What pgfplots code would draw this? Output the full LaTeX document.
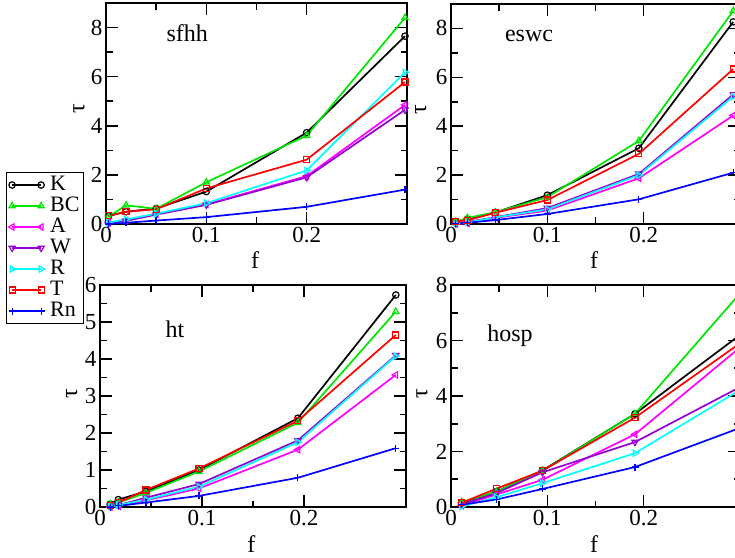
\documentclass[border=0pt]{standalone}
\usepackage{pgfplots}
\pgfplotsset{compat=1.18}
\usepackage{fontspec}
\setmainfont{Liberation Serif}
\definecolor{cGreen}{RGB}{0,230,0}
\definecolor{cViolet}{RGB}{148,0,211}
\definecolor{cCyan}{RGB}{0,255,255}
\definecolor{cMag}{RGB}{255,0,255}
\pgfplotsset{
  panel/.style={
    scale only axis, anchor=south west, xmin=0, xmax=0.3, clip=false,
    xtick={0,0.1,0.2}, minor x tick num=1,
    axis line style={line width=2pt},
    tick style={line width=1.6pt, black},
    major tick length=12pt, minor tick length=6.5pt,
    tick align=inside,
    /pgf/number format/assume math mode=true,
    tick label style={font=\fontsize{23}{23}\selectfont},
    label style={font=\fontsize{24}{24}\selectfont},
    xlabel={f}, ylabel={τ},
    xlabel style={at={(axis description cs:0.495,-0.165)}, anchor=center},
    every axis plot/.append style={line width=1.7pt},
  },
  sK/.style={black, mark=o, mark size=3.2pt, mark options={solid, line width=1.2pt}},
  sBC/.style={cGreen, mark=triangle, mark size=3.6pt, mark options={solid, line width=1.2pt}},
  sA/.style={cMag, mark=triangle, mark size=3.6pt, mark options={solid, line width=1.2pt, rotate=90}},
  sW/.style={cViolet, mark=triangle, mark size=3.6pt, mark options={solid, line width=1.2pt, rotate=180}},
  sR/.style={cCyan, mark=triangle, mark size=3.6pt, mark options={solid, line width=1.2pt, rotate=-90}},
  sT/.style={red, mark=square, mark size=3pt, mark options={solid, line width=1.2pt}},
  sRn/.style={blue, mark=+, mark size=3.5pt, mark options={solid, line width=1.2pt}},
}
\begin{document}
\begin{tikzpicture}
% ---------- sfhh ----------
\begin{axis}[panel, at={(106pt,333pt)}, width=301pt, height=221pt,
  ymin=0, ymax=9, ytick={0,2,4,6,8}, minor y tick num=1,
  ylabel style={at={(axis description cs:-0.09,0.52)}, anchor=center},
  legend cell align=left,
  legend style={at={(-0.332,0.235)}, anchor=north west,
    draw=black, line width=0.9pt, inner sep=2pt, row sep=0pt, column sep=4pt,
    font=\fontsize{22}{22}\selectfont,
    nodes={font=\fontsize{22}{22}\selectfont, inner sep=1.5pt, text height=14.5pt, text depth=3.5pt}},
  legend image code/.code={\draw plot coordinates {(0pt,0pt) (29pt,0pt)};},
]
\addplot[sK] coordinates {(0.0025,0.33) (0.02,0.5) (0.05,0.63) (0.1,1.32) (0.2,3.72) (0.298,7.65)};
\addplot[sBC] coordinates {(0.0025,0.3) (0.02,0.76) (0.05,0.62) (0.1,1.7) (0.2,3.6) (0.298,8.4)};
\addplot[sA] coordinates {(0.0025,0.05) (0.02,0.15) (0.05,0.4) (0.1,0.8) (0.2,1.95) (0.298,4.85)};
\addplot[sW] coordinates {(0.0025,0.02) (0.02,0.13) (0.05,0.38) (0.1,0.78) (0.2,1.9) (0.298,4.65)};
\addplot[sR] coordinates {(0.0025,0.06) (0.02,0.19) (0.05,0.42) (0.1,0.85) (0.2,2.18) (0.298,6.18)};
\addplot[sT] coordinates {(0.0025,0.33) (0.02,0.5) (0.05,0.6) (0.1,1.45) (0.2,2.62) (0.298,5.78)};
\addplot[sRn] coordinates {(0.0025,0.0) (0.02,0.05) (0.05,0.14) (0.1,0.28) (0.2,0.7) (0.298,1.4)};
\legend{K,BC,A,W,R,T,Rn}
\node[font=\fontsize{24}{24}\selectfont, anchor=center] at (axis description cs:0.27,0.862) {sfhh};
\end{axis}
% ---------- eswc ----------
\begin{axis}[panel, at={(451pt,333pt)}, width=289pt, height=220pt,
  ymin=0, ymax=9, ytick={0,2,4,6,8}, minor y tick num=1,
  ylabel style={at={(axis description cs:-0.105,0.52)}, anchor=center},
]
\addplot[sK] coordinates {(0.005,0.1) (0.017,0.2) (0.046,0.47) (0.1,1.18) (0.195,3.1) (0.293,8.27)};
\addplot[sBC] coordinates {(0.005,0.08) (0.017,0.25) (0.046,0.48) (0.1,1.1) (0.195,3.4) (0.293,8.72)};
\addplot[sA] coordinates {(0.005,0.0) (0.017,0.03) (0.046,0.25) (0.1,0.55) (0.195,1.87) (0.293,4.44)};
\addplot[sW] coordinates {(0.005,0.02) (0.017,0.08) (0.046,0.28) (0.1,0.65) (0.195,2.05) (0.293,5.3)};
\addplot[sR] coordinates {(0.005,0.02) (0.017,0.06) (0.046,0.27) (0.1,0.6) (0.195,2.0) (0.293,5.22)};
\addplot[sT] coordinates {(0.005,0.1) (0.017,0.15) (0.046,0.46) (0.1,0.98) (0.195,2.87) (0.293,6.34)};
\addplot[sRn] coordinates {(0.005,0.02) (0.017,0.05) (0.046,0.16) (0.1,0.41) (0.195,1.01) (0.293,2.1)};
\node[font=\fontsize{24}{24}\selectfont, anchor=center] at (axis description cs:0.27,0.855) {eswc};
\end{axis}
% ---------- ht ----------
\begin{axis}[panel, at={(100pt,50pt)}, width=306pt, height=222pt,
  ymin=0, ymax=6, ytick={0,1,2,3,4,5,6}, minor y tick num=1,
  ylabel style={at={(axis description cs:-0.092,0.51)}, anchor=center},
]
\addplot[sK] coordinates {(0.01,0.08) (0.018,0.2) (0.045,0.42) (0.097,1.0) (0.194,2.4) (0.29,5.73)};
\addplot[sBC] coordinates {(0.01,0.08) (0.018,0.12) (0.045,0.38) (0.097,0.96) (0.194,2.28) (0.29,5.28)};
\addplot[sA] coordinates {(0.01,0.0) (0.018,0.02) (0.045,0.18) (0.097,0.5) (0.194,1.55) (0.29,3.57)};
\addplot[sW] coordinates {(0.01,0.02) (0.018,0.05) (0.045,0.25) (0.097,0.62) (0.194,1.8) (0.29,4.1)};
\addplot[sR] coordinates {(0.01,0.02) (0.018,0.05) (0.045,0.2) (0.097,0.55) (0.194,1.75) (0.29,4.08)};
\addplot[sT] coordinates {(0.01,0.05) (0.018,0.12) (0.045,0.46) (0.097,1.04) (0.194,2.33) (0.29,4.65)};
\addplot[sRn] coordinates {(0.01,0.0) (0.018,0.03) (0.045,0.12) (0.097,0.3) (0.194,0.79) (0.29,1.59)};
\node[font=\fontsize{24}{24}\selectfont, anchor=center] at (axis description cs:0.245,0.80) {ht};
\end{axis}
% ---------- hosp ----------
\begin{axis}[panel, at={(451pt,50pt)}, width=289pt, height=222pt,
  ymin=0, ymax=8, ytick={0,2,4,6,8}, minor y tick num=1,
  ylabel style={at={(axis description cs:-0.1,0.51)}, anchor=center},
]
\addplot[sK] coordinates {(0.011,0.15) (0.047,0.55) (0.095,1.32) (0.191,3.36) (0.3,6.2)};
\addplot[sBC] coordinates {(0.011,0.18) (0.047,0.55) (0.095,1.3) (0.191,3.36) (0.3,7.7)};
\addplot[sA] coordinates {(0.011,0.05) (0.047,0.45) (0.095,0.98) (0.191,2.62) (0.3,5.75)};
\addplot[sW] coordinates {(0.011,0.08) (0.047,0.5) (0.095,1.25) (0.191,2.34) (0.3,4.32)};
\addplot[sR] coordinates {(0.011,0.02) (0.047,0.35) (0.095,0.86) (0.191,1.94) (0.3,4.22)};
\addplot[sT] coordinates {(0.011,0.15) (0.047,0.66) (0.095,1.31) (0.191,3.22) (0.3,5.9)};
\addplot[sRn] coordinates {(0.011,0.08) (0.047,0.27) (0.095,0.65) (0.191,1.44) (0.3,2.85)};
\node[font=\fontsize{24}{24}\selectfont, anchor=center] at (axis description cs:0.204,0.77) {hosp};
\end{axis}
\pgfresetboundingbox
\useasboundingbox (0pt,0pt) rectangle (735pt,557pt);
\end{tikzpicture}
\end{document}
